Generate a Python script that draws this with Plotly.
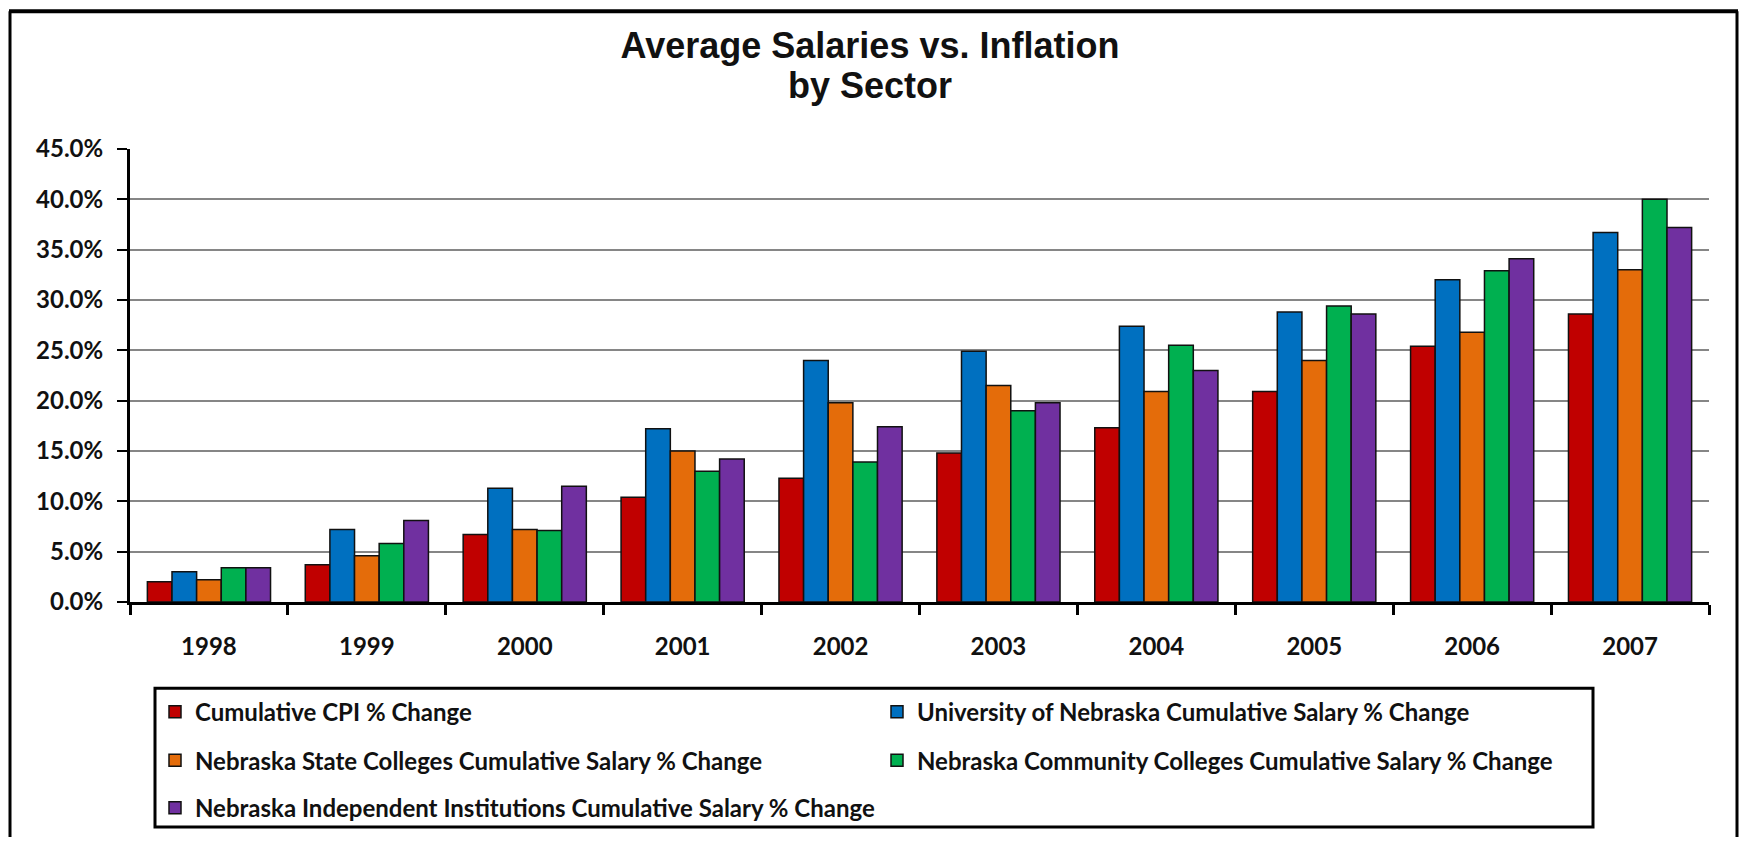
import plotly.graph_objects as go

years = ["1998", "1999", "2000", "2001", "2002", "2003", "2004", "2005", "2006", "2007"]
cpi = [2.0, 3.7, 6.7, 10.4, 12.3, 14.8, 17.3, 20.9, 25.4, 28.6]
unl = [3.0, 7.2, 11.3, 17.2, 24.0, 24.9, 27.4, 28.8, 32.0, 36.7]
state = [2.2, 4.6, 7.2, 15.0, 19.8, 21.5, 20.9, 24.0, 26.8, 33.0]
community = [3.4, 5.8, 7.1, 13.0, 13.9, 19.0, 25.5, 29.4, 32.9, 40.0]
independent = [3.4, 8.1, 11.5, 14.2, 17.4, 19.8, 23.0, 28.6, 34.1, 37.2]

names = [
    "Cumulative CPI % Change",
    "University of Nebraska Cumulative Salary % Change",
    "Nebraska State Colleges Cumulative Salary % Change",
    "Nebraska Community Colleges Cumulative Salary % Change",
    "Nebraska Independent Institutions Cumulative Salary % Change",
]
colors = ["#C00000", "#0070C0", "#E46C0A", "#00B050", "#7030A0"]
series = [cpi, unl, state, community, independent]
legend_ids = ["legend", "legend", "legend2", "legend2", "legend3"]

W, H = 1740, 843
L, R, T, B = 130, 1709, 149, 606  # plot area in px


def px_x(x):
    return (x - L) / (R - L)


def px_y(y):
    return (B - y) / (B - T)


fig = go.Figure()
for n, c, s, lg in zip(names, colors, series, legend_ids):
    fig.add_trace(go.Bar(
        x=years, y=s, name=n, legend=lg,
        marker=dict(color=c, line=dict(color="#111111", width=1.5)),
    ))

tick_font = dict(family="Lato", size=24, color="#111111", weight="bold")
leg_font = dict(family="Lato", size=24, color="#111111", weight="bold")
title_font = dict(family="Liberation Sans", size=36, color="#111111", weight="bold")

common_leg = dict(orientation="h", xanchor="left", yanchor="middle",
                  font=leg_font, bgcolor="rgba(0,0,0,0)", borderwidth=0,
                  entrywidth=677, entrywidthmode="pixels", itemwidth=30)

fig.update_layout(
    width=W, height=H,
    margin=dict(l=L, r=W - R, t=T, b=H - B, pad=0),
    paper_bgcolor="white", plot_bgcolor="white",
    title=dict(text="Average Salaries vs. Inflation", font=title_font,
               x=0.5, xanchor="center", xref="container",
               y=1 - 45 / H, yanchor="middle", yref="container"),
    barmode="group", bargap=0.22, bargroupgap=0,
    legend=dict(x=px_x(155), y=px_y(717), **common_leg),
    legend2=dict(x=px_x(155), y=px_y(766), **common_leg),
    legend3=dict(x=px_x(155), y=px_y(814), **common_leg),
    xaxis=dict(showline=True, linecolor="#000000", linewidth=2.5,
               ticks="outside", tickson="boundaries", ticklen=10, tickwidth=2.5,
               tickcolor="#000000", tickfont=tick_font, ticklabelstandoff=21,
               showgrid=False),
    yaxis=dict(range=[0, 45], dtick=5, tickformat=".1f", ticksuffix="%",
               showline=True, linecolor="#000000", linewidth=3,
               ticks="outside", ticklen=10, tickwidth=2, tickcolor="#000000",
               tickfont=tick_font, ticklabelstandoff=9,
               showgrid=True, gridcolor="#868686", gridwidth=2,
               zeroline=False),
    showlegend=True,
)

# second title line
fig.add_annotation(text="by Sector", font=title_font, showarrow=False,
                   xref="paper", yref="paper", x=px_x(W / 2), y=px_y(85),
                   xanchor="center", yanchor="middle")

# legend box and outer frame
fig.add_shape(type="rect", xref="paper", yref="paper",
              x0=px_x(155), x1=px_x(1593), y0=px_y(693), y1=px_y(833),
              line=dict(color="#000000", width=3), fillcolor="rgba(0,0,0,0)", layer="above")
fig.add_shape(type="line", xref="paper", yref="paper",
              x0=px_x(9), x1=px_x(1738), y0=px_y(10), y1=px_y(10),
              line=dict(color="#000000", width=4))
fig.add_shape(type="line", xref="paper", yref="paper",
              x0=px_x(10), x1=px_x(10), y0=px_y(10), y1=px_y(843),
              line=dict(color="#000000", width=3))
fig.add_shape(type="line", xref="paper", yref="paper",
              x0=px_x(1737), x1=px_x(1737), y0=px_y(10), y1=px_y(843),
              line=dict(color="#000000", width=3))

page_fix = (
    "for (const el of [document.documentElement, document.body]) {"
    "el.style.margin='0px'; el.style.padding='0px';"
    "el.style.overflow='hidden'; el.style.height='843px'; }"
)
fig.write_html("out.html", config={"displayModeBar": False}, post_script=page_fix)
